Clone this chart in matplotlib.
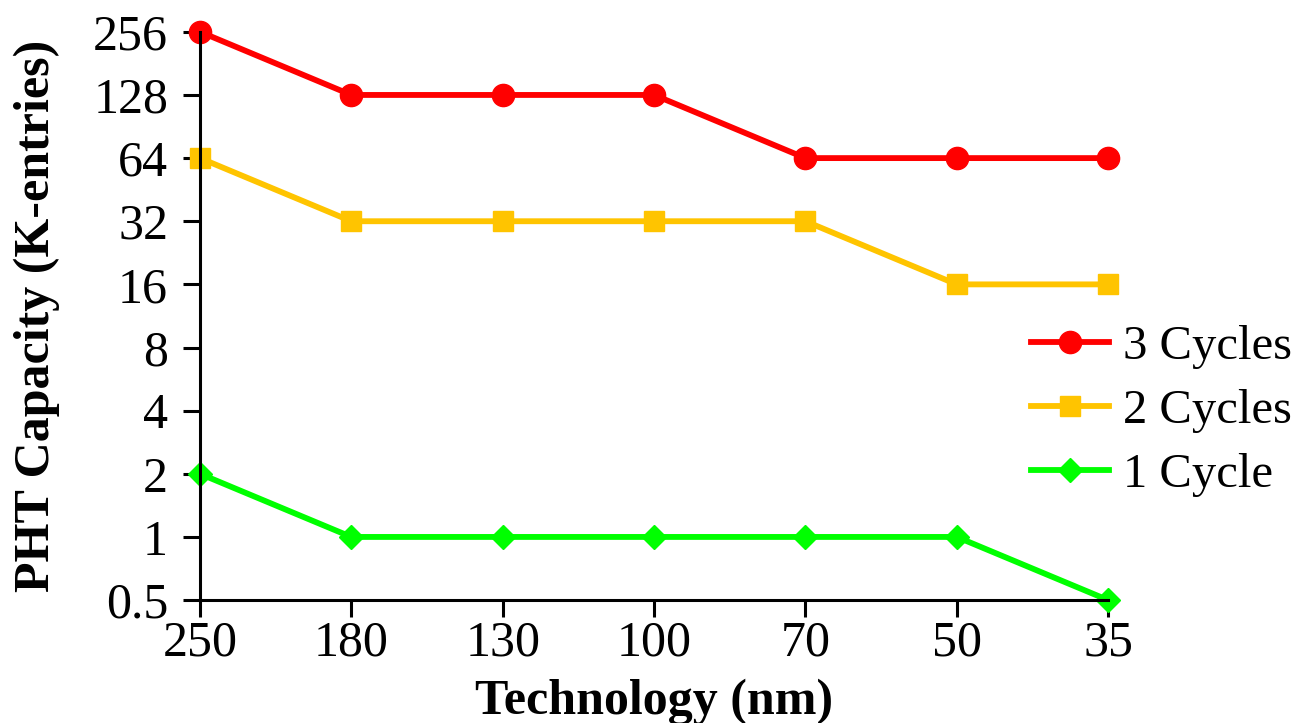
import matplotlib.pyplot as plt

tech_nm = ["250", "180", "130", "100", "70", "50", "35"]
cycles3 = [256, 128, 128, 128, 64, 64, 64]
cycles2 = [64, 32, 32, 32, 32, 16, 16]
cycle1 = [2, 1, 1, 1, 1, 1, 0.5]
yticks = [0.5, 1, 2, 4, 8, 16, 32, 64, 128, 256]
ytick_labels = ["0.5", "1", "2", "4", "8", "16", "32", "64", "128", "256"]

plt.rcParams["font.family"] = ["Liberation Serif", "DejaVu Serif"]

fig = plt.figure(figsize=(13.02, 7.23), dpi=100)
ax = fig.add_axes([0.1536, 0.170, 0.6975, 0.786])

x = range(len(tech_nm))
ax.plot(x, cycles3, color="#FF0000", lw=4.2, marker="o", ms=16, label="3 Cycles", clip_on=False)
ax.plot(x, cycles2, color="#FFC400", lw=4.2, marker="s", ms=15, label="2 Cycles", clip_on=False)
ax.plot(x, cycle1, color="#00FF00", lw=4.2, marker="D", ms=12, label="1 Cycle", clip_on=False)

ax.set_yscale("log", base=2)
ax.set_ylim(0.5, 256)
ax.set_xlim(0, len(tech_nm) - 1)
ax.set_yticks(yticks)
ax.set_yticklabels(ytick_labels)
ax.minorticks_off()
ax.set_xticks(list(x))
ax.set_xticklabels(tech_nm)

for side in ["top", "right"]:
    ax.spines[side].set_visible(False)
for side in ["left", "bottom"]:
    ax.spines[side].set_linewidth(2.2)
ax.tick_params(direction="out", length=12, width=2.2, labelsize=36)
ax.tick_params(axis="x", pad=2)
ax.tick_params(axis="y", pad=11)

ax.set_xlabel("Technology (nm)", fontsize=36, fontweight="bold", labelpad=9)
ax.set_ylabel("PHT Capacity (K-entries)", fontsize=36, fontweight="bold")
ax.yaxis.set_label_coords(-0.154, 0.5)

fig.legend(loc="center left", bbox_to_anchor=(1031 / 1302, 0.4315), frameon=False, fontsize=35,
           handlelength=1.6, handletextpad=0.3, labelspacing=0.42, borderaxespad=0, borderpad=0)

plt.savefig("out.png", dpi=100)
plt.close()
